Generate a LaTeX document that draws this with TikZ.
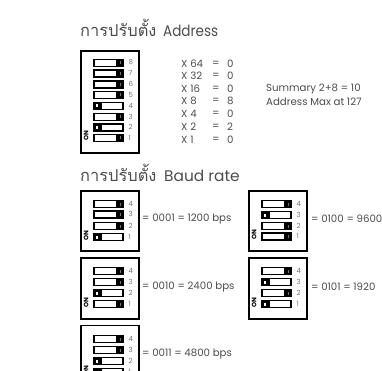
\documentclass[tikz,border=0pt]{standalone}
\usepackage{graphicx}
\usepackage{fontspec}
\setmainfont{Poppins}
\newfontfamily\thaifont[Script=Thai]{Loma}
\definecolor{inkc}{gray}{0.3}
\definecolor{numc}{gray}{0.45}
\tikzset{
  dipbox/.style={draw=black,line width=1.7pt,fill=white,inner sep=0pt,anchor=north west},
  head/.style={anchor=base west,inner sep=0pt,text=inkc},
  lbl/.style={anchor=west,inner sep=0pt,text=inkc,font=\fontsize{10.2}{11}\selectfont},
  num/.style={anchor=west,inner sep=0pt,text=numc,font=\fontsize{7}{8}\selectfont},
  onlbl/.style={rotate=90,inner sep=0pt,text=black,font=\bfseries\fontsize{6.4}{7}\selectfont},
}
\newcommand{\thaih}{{\thaifont\fontsize{16.4}{17}\selectfont การปรับตั้ง}}
% #1 x of switch, #2 y centre, #3 number, #4 state 0/1 (1 = knob left)
\newcommand{\dipsw}[4]{%
  \fill[black] (#1,#2-4.4) rectangle ++(30.5,8.8);
  \ifnum#4=1
    \fill[white] (#1+9,#2-2.7) rectangle ++(20,5.4);
    \fill[white] (#1+2.5,#2-1.5) rectangle ++(2.2,3);
  \else
    \fill[white] (#1+1.5,#2-2.7) rectangle ++(21,5.4);
    \fill[numc] (#1+26.6,#2-1.5) rectangle ++(1.6,3);
  \fi
  \node[num] at (#1+35.5,#2-0.5) {#3};
}
\begin{document}
\begin{tikzpicture}[x=1pt,y=-1pt]
\useasboundingbox (0,0) rectangle (382,371);
\clip (0,0) rectangle (382,371);
\fill[white] (0,0) rectangle (382,371);

\node[head] (h1) at (80,37) {\thaih};
\node[head,font=\fontsize{15.4}{16}\selectfont] (h1b) at (163,37) {\scalebox{0.88}[1]{Address}};
\node[dipbox,minimum width=58pt,minimum height=102pt] (a) at (80,50) {};
\dipsw{93}{63}{8}{0}
\dipsw{93}{73.5}{7}{0}
\dipsw{93}{84.5}{6}{0}
\dipsw{93}{95}{5}{0}
\dipsw{93}{106}{4}{1}
\dipsw{93}{117}{3}{0}
\dipsw{93}{127.5}{2}{1}
\dipsw{93}{138}{1}{0}
\node[onlbl] (ona) at (86,135.5) {ON};

\node[lbl] (x64) at (181,64) {X 64};
\node[lbl] (x32) at (181,76) {X 32};
\node[lbl] (x16) at (181,89) {X 16};
\node[lbl] (x8) at (181,101) {X 8};
\node[lbl] (x4) at (181,114) {X 4};
\node[lbl] (x2) at (181,127) {X 2};
\node[lbl] (x1) at (181,140) {X 1};
\node[lbl] (e1) at (212,64) {=};
\node[lbl] (e2) at (212,76) {=};
\node[lbl] (e3) at (212,89) {=};
\node[lbl] (e4) at (212,101) {=};
\node[lbl] (e5) at (212,114) {=};
\node[lbl] (e6) at (212,127) {=};
\node[lbl] (e7) at (212,140) {=};
\node[lbl] (v1) at (227,64) {0};
\node[lbl] (v2) at (227,76) {0};
\node[lbl] (v3) at (227,89) {0};
\node[lbl] (v4) at (227,101) {8};
\node[lbl] (v5) at (227,114) {0};
\node[lbl] (v6) at (227,127) {2};
\node[lbl] (v7) at (227,140) {0};
\node[lbl] (s1) at (266,89) {Summary 2+8 = 10};
\node[lbl] (s2) at (266,102) {Address Max at 127};

\node[head] (h2) at (80,182) {\thaih};
\node[head,font=\fontsize{15.4}{16}\selectfont] (h2b) at (164,182) {Baud rate};

\node[dipbox,minimum width=58pt,minimum height=60pt] (b1) at (80,190) {};
\dipsw{93}{204}{4}{0}\dipsw{93}{214.5}{3}{0}\dipsw{93}{226}{2}{0}\dipsw{93}{237}{1}{1}
\node[onlbl] (on1) at (86,235.5) {ON};
\node[lbl] (t1) at (142,219) {= 0001 = 1200 bps};

\node[dipbox,minimum width=58pt,minimum height=61pt] (b2) at (80,257) {};
\dipsw{93}{271}{4}{0}\dipsw{93}{282}{3}{0}\dipsw{93}{293}{2}{1}\dipsw{93}{304}{1}{0}
\node[onlbl] (on2) at (86,302.5) {ON};
\node[lbl] (t2) at (142,287) {= 0010 = 2400 bps};

\node[dipbox,minimum width=58pt,minimum height=61pt] (b3) at (80,324.5) {};
\dipsw{93}{339}{4}{0}\dipsw{93}{350}{3}{0}\dipsw{93}{361}{2}{1}\dipsw{93}{372}{1}{1}
\node[onlbl] (on3) at (86,370.5) {ON};
\node[lbl] (t3) at (142,354) {= 0011 = 4800 bps};

\node[dipbox,minimum width=58pt,minimum height=60pt] (b4) at (248,190) {};
\dipsw{261}{204}{4}{0}\dipsw{261}{215}{3}{1}\dipsw{261}{226}{2}{0}\dipsw{261}{236.5}{1}{0}
\node[onlbl] (on4) at (254,235) {ON};
\node[lbl] (t4) at (311,219) {= 0100 = 9600};

\node[dipbox,minimum width=58pt,minimum height=61pt] (b5) at (248,257) {};
\dipsw{261}{271}{4}{0}\dipsw{261}{282}{3}{1}\dipsw{261}{293}{2}{0}\dipsw{261}{304}{1}{1}
\node[onlbl] (on5) at (254,302.5) {ON};
\node[lbl] (t5) at (311,286.5) {= 0101 = 1920};
\end{tikzpicture}
\end{document}
